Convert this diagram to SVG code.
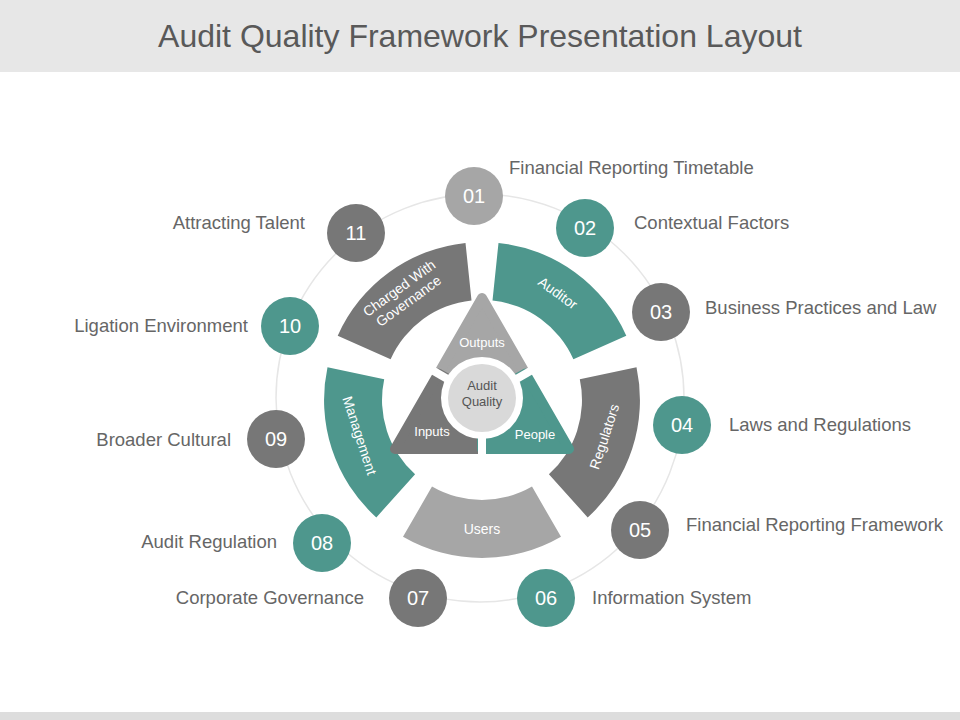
<svg xmlns="http://www.w3.org/2000/svg" width="960" height="720" viewBox="0 0 960 720">
<style>
.t{fill:#4E978D}.d{fill:#777777}.l{fill:#A6A6A6}
.n{font-family:"Liberation Sans",Arial,sans-serif;font-size:20px;fill:#fff;text-anchor:middle}
.lb{font-family:"Liberation Sans",Arial,sans-serif;font-size:18.5px;fill:#666}
.s{font-family:"Liberation Sans",Arial,sans-serif;font-size:14px;fill:#fff;text-anchor:middle}
.tr{stroke-linejoin:round;stroke-width:10}
</style>
<rect width="960" height="720" fill="#fff"/>
<rect width="960" height="72" fill="#E7E7E7"/>
<rect y="712" width="960" height="8" fill="#DDDDDD"/>
<text x="480" y="47" font-family="Liberation Sans,Arial,sans-serif" font-size="32" fill="#595959" text-anchor="middle">Audit Quality Framework Presentation Layout</text>
<g id="connectors">
<circle cx="480" cy="398" r="204" fill="none" stroke="#E6E6E6" stroke-width="1.5"/>
</g>
<g id="seg-auditor"><path class="t" d="M498.5,242.9 A158 158 0 0 1 626.3,335.7 L573.4,359.3 A100 100 0 0 0 492.5,300.5 Z"/><text class="s" transform="translate(555,297) rotate(36)">Auditor</text></g>
<g id="seg-regulators"><path class="d" d="M636.5,367.2 A158 158 0 0 1 587.7,517.4 L548.9,474.3 A100 100 0 0 0 579.8,379.2 Z"/><text class="s" transform="translate(609,438) rotate(-72)">Regulators</text></g>
<g id="seg-users"><path class="l" d="M561,536.8 A158 158 0 0 1 403,536.8 L432,486.6 A100 100 0 0 0 532,486.6 Z"/><text class="s" x="482" y="534">Users</text></g>
<g id="seg-management"><path class="t" d="M376.3,517.4 A158 158 0 0 1 327.5,367.2 L384.2,379.2 A100 100 0 0 0 415.1,474.3 Z"/><text class="s" transform="translate(355,437) rotate(72)">Management</text></g>
<g id="seg-charged"><path class="d" d="M337.7,335.7 A158 158 0 0 1 465.5,242.9 L471.5,300.5 A100 100 0 0 0 390.6,359.3 Z"/><text class="s" transform="translate(402,292) rotate(-36)"><tspan x="0" y="0">Charged With</tspan><tspan x="0" y="16">Governance</tspan></text></g>
<g id="triangle">
<polygon class="l tr" stroke="#A6A6A6" points="482,298 525.5,373.5 482,398.7 438.5,373.5"/>
<polygon class="d tr" stroke="#777777" points="438.5,373.5 482,398.7 482,449 395,449"/>
<polygon class="t tr" stroke="#4E978D" points="525.5,373.5 569,449 482,449 482,398.7"/>
<g stroke="#fff" stroke-width="8"><line x1="482" y1="399" x2="482" y2="462"/><line x1="482" y1="399" x2="425" y2="366"/><line x1="482" y1="399" x2="539" y2="366"/></g>
<text class="s" style="font-size:13px" x="482" y="347">Outputs</text>
<text class="s" style="font-size:13px" x="432" y="436">Inputs</text>
<text class="s" style="font-size:13px" x="535" y="439">People</text>
</g>
<g id="center"><circle cx="482" cy="398" r="41" fill="#fff"/><circle cx="482" cy="398" r="34" fill="#D9D9D9"/>
<text font-family="Liberation Sans,Arial,sans-serif" font-size="13" fill="#555" text-anchor="middle"><tspan x="482" y="390">Audit</tspan><tspan x="482" y="406">Quality</tspan></text></g>
<g id="n01"><circle class="l" cx="474" cy="196" r="29"/><text class="n" x="474" y="203">01</text><text class="lb" x="509" y="174">Financial Reporting Timetable</text></g>
<g id="n02"><circle class="t" cx="585" cy="228" r="29"/><text class="n" x="585" y="235">02</text><text class="lb" x="634" y="229">Contextual Factors</text></g>
<g id="n03"><circle class="d" cx="661" cy="312" r="29"/><text class="n" x="661" y="319">03</text><text class="lb" x="705" y="314">Business Practices and Law</text></g>
<g id="n04"><circle class="t" cx="682" cy="425" r="29"/><text class="n" x="682" y="432">04</text><text class="lb" x="729" y="431">Laws and Regulations</text></g>
<g id="n05"><circle class="d" cx="640" cy="530" r="29"/><text class="n" x="640" y="537">05</text><text class="lb" x="686" y="531">Financial Reporting Framework</text></g>
<g id="n06"><circle class="t" cx="546" cy="598" r="29"/><text class="n" x="546" y="605">06</text><text class="lb" x="592" y="604">Information System</text></g>
<g id="n07"><circle class="d" cx="418" cy="598" r="29"/><text class="n" x="418" y="605">07</text><text class="lb" x="364" y="604" text-anchor="end">Corporate Governance</text></g>
<g id="n08"><circle class="t" cx="322" cy="543" r="29"/><text class="n" x="322" y="550">08</text><text class="lb" x="277" y="548" text-anchor="end">Audit Regulation</text></g>
<g id="n09"><circle class="d" cx="276" cy="439" r="29"/><text class="n" x="276" y="446">09</text><text class="lb" x="231" y="446" text-anchor="end">Broader Cultural</text></g>
<g id="n10"><circle class="t" cx="290" cy="326" r="29"/><text class="n" x="290" y="333">10</text><text class="lb" x="248" y="332" text-anchor="end">Ligation Environment</text></g>
<g id="n11"><circle class="d" cx="356" cy="233" r="29"/><text class="n" x="356" y="240">11</text><text class="lb" x="305" y="229" text-anchor="end">Attracting Talent</text></g>
</svg>
